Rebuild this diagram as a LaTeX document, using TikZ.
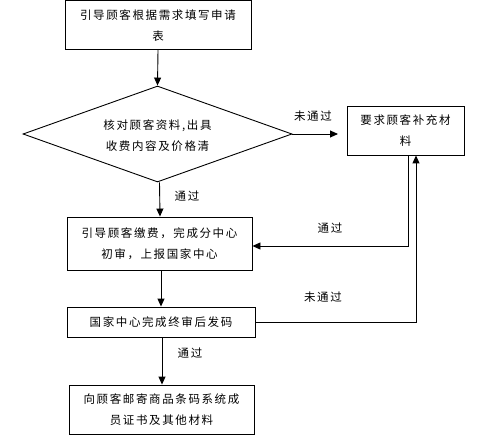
\documentclass[tikz,border=0pt]{standalone}
\usepackage{fontspec}
\setmainfont{Noto Sans CJK SC}[LetterSpace=14]
\usetikzlibrary{shapes.geometric,arrows.meta}
\tikzset{
  box/.style={draw,line width=0.9pt,inner sep=0pt,align=center,font=\fontsize{11.5}{21}\selectfont},
  decision/.style={draw,diamond,line width=0.9pt,inner sep=0pt,minimum width=269pt,minimum height=96pt},
  txt/.style={align=center,font=\fontsize{11.5}{21}\selectfont,inner sep=0pt},
  lbl/.style={font=\fontsize{11.5}{13}\selectfont,inner sep=0pt},
  conn/.style={line width=0.9pt,-{Triangle[length=8pt,width=7pt]}},
  plain/.style={line width=0.9pt}
}
\begin{document}
\begin{tikzpicture}[x=1pt,y=-1pt]
\useasboundingbox (0,0) rectangle (480,444);
\node[box,minimum width=186pt,minimum height=49pt] (b1) at (158,25.2) {引导顾客根据需求填写申请\\表};
\node[decision] (d) at (157.5,134) {};
\node[txt] (dt) at (157.5,136) {核对顾客资料,出具\\收费内容及价格清};
\node[box,minimum width=117pt,minimum height=49pt] (r) at (405.5,130.5) {要求顾客补充材\\料};
\node[box,minimum width=185pt,minimum height=53pt] (b2) at (159.5,243.5) {引导顾客缴费，完成分中心\\初审，上报国家中心};
\node[box,minimum width=188pt,minimum height=30pt] (b3) at (161,322) {国家中心完成终审后发码};
\node[box,minimum width=185pt,minimum height=49pt] (b4) at (161.5,409.5) {向顾客邮寄商品条码系统成\\员证书及其他材料};

\draw[conn] (b1.south) -- (d.north);
\draw[conn] (d.east) -- (338,134) coordinate (rin);
\draw[conn] ([xshift=2pt]d.south) -- ([xshift=0.5pt]b2.north);
\draw[conn] (b2.south -| 161,0) -- (b3.north -| 161,0);
\draw[conn] (b3.south -| 162,0) -- (b4.north -| 162,0);
\draw[conn] (r.south -| 408,0) |- (b2.east |- 0,246);
\draw[conn] (b3.east) -| (r.south -| 416,0);

\node[lbl] (l1) at (313,116) {未通过};
\node[lbl] (l2) at (187,196) {通过};
\node[lbl] (l3) at (330,228) {通过};
\node[lbl] (l4) at (323,297) {未通过};
\node[lbl] (l5) at (190,353) {通过};
\end{tikzpicture}
\end{document}
